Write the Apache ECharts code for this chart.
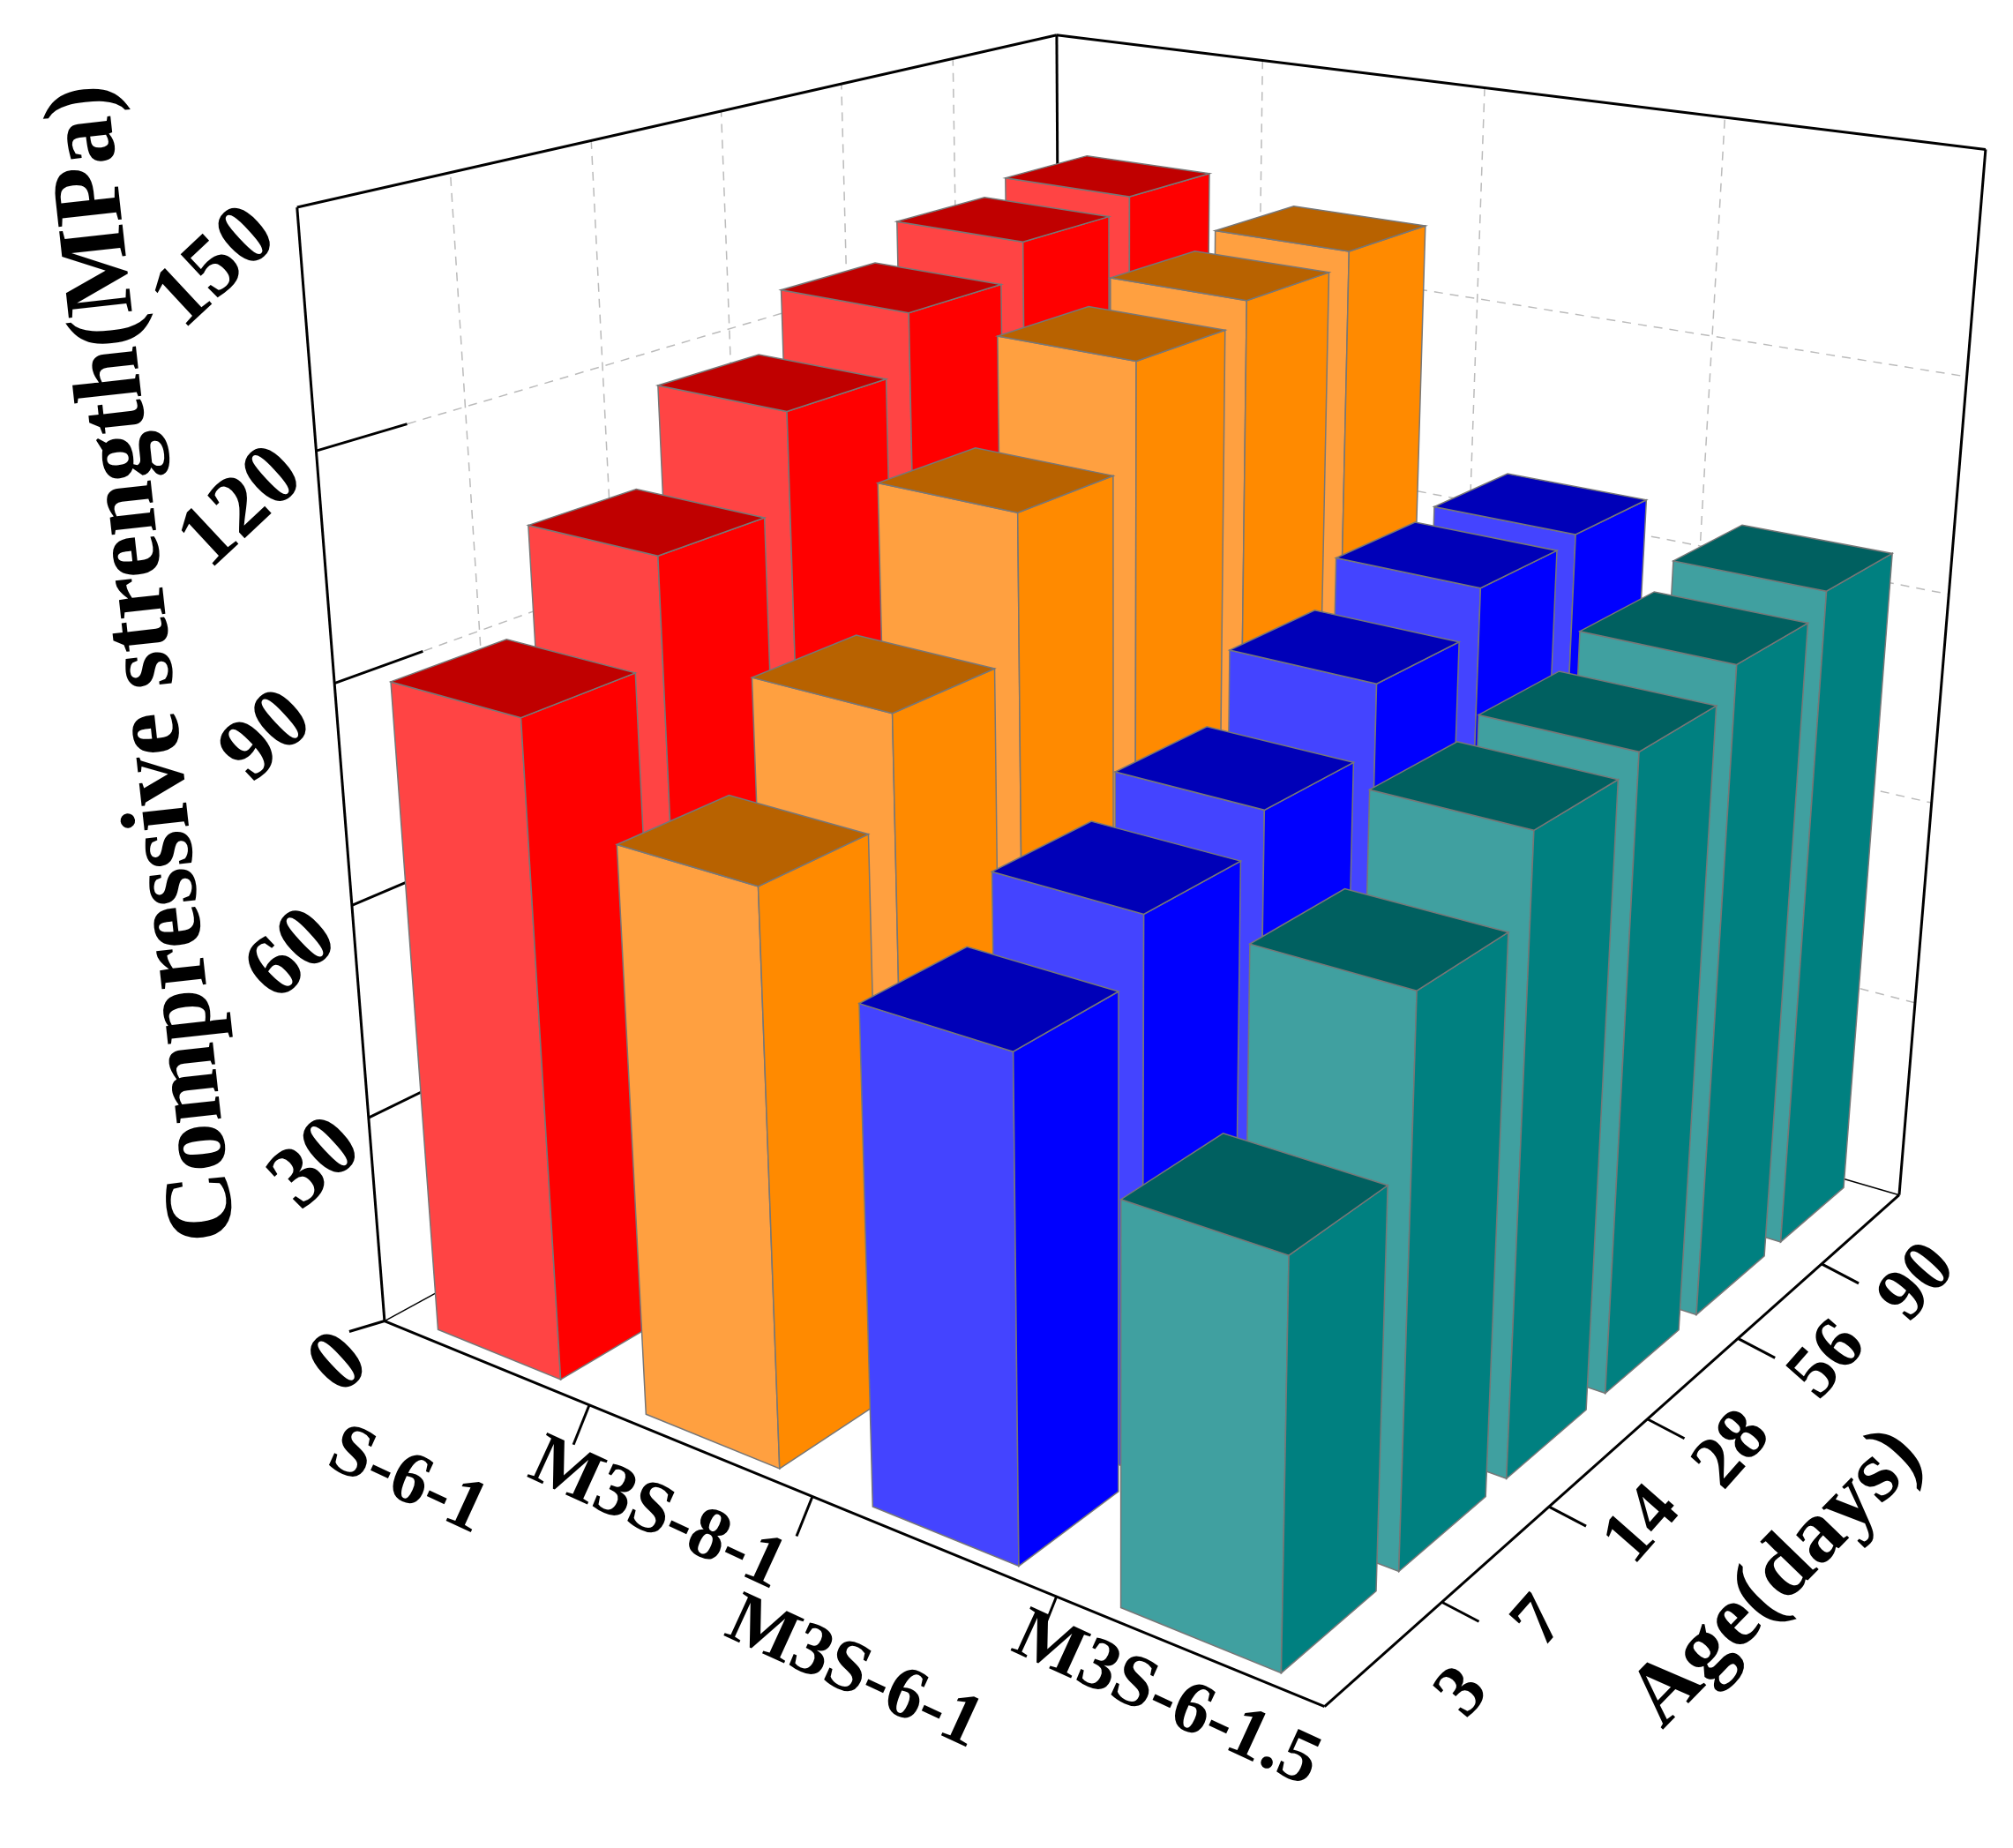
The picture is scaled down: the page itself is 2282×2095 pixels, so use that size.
<!DOCTYPE html>
<html><head><meta charset="utf-8">
<script src="https://cdn.jsdelivr.net/npm/echarts@6/dist/echarts.min.js"></script>
<style>html,body{margin:0;padding:0;background:#fff}#c{width:2282px;height:2095px}</style>
</head><body><div id="c"></div>
<script>
const groups = ['S-6-1','M3S-8-1','M3S-6-1','M3S-6-1.5'];
const ages = ['3','7','14','28','56','90'];
const yTicks = [0,30,60,90,120,150];
const sS61   = [91,105,118,126,131,133];
const sM3S81 = [78,92,111,125,128,130];
const sM3S61 = [67,75,80,89,95,96];
const sM3S615= [53,75,86,88,92,95];
const series = [sS61,sM3S81,sM3S61,sM3S615];
const colors = [
 {f:'#ff4444',s:'#ff0000',t:'#c00000'},
 {f:'#ffa040',s:'#ff8a00',t:'#b86200'},
 {f:'#4444ff',s:'#0000ff',t:'#0000b8'},
 {f:'#40a0a0',s:'#008080',t:'#006060'}
];
const VMAX=150;
// camera calibration: box corners (g,a,v/VMAX) -> pixel
const CAL=[[0,0,0,437,1499],[0,0,1,338,233],[1,1,0,2154,1353],[1,1,1,2252,171],[0,1,1,1196,40],[1,0,0,1499,1935]];
function solveCam(){
  const M=[],b=[];
  CAL.forEach(([X,Y,Z,u,v])=>{
    M.push([X,Y,Z,1,0,0,0,0,-u*X,-u*Y,-u*Z]);b.push(u);
    M.push([0,0,0,0,X,Y,Z,1,-v*X,-v*Y,-v*Z]);b.push(v);
  });
  const n=11,N=[],r=[];
  for(let i=0;i<n;i++){N.push(new Array(n).fill(0));r.push(0);
    for(let k=0;k<M.length;k++){r[i]+=M[k][i]*b[k];for(let j=0;j<n;j++)N[i][j]+=M[k][i]*M[k][j];}}
  for(let i=0;i<n;i++){let p=i;for(let k=i+1;k<n;k++)if(Math.abs(N[k][i])>Math.abs(N[p][i]))p=k;
    [N[i],N[p]]=[N[p],N[i]];[r[i],r[p]]=[r[p],r[i]];
    for(let k=0;k<n;k++){if(k===i)continue;const f=N[k][i]/N[i][i];for(let j=i;j<n;j++)N[k][j]-=f*N[i][j];r[k]-=f*r[i];}}
  return r.map((x,i)=>x/N[i][i]);
}
const P=solveCam();
function proj(g,a,v){
  const Z=v/VMAX,w=P[8]*g+P[9]*a+P[10]*Z+1;
  return [(P[0]*g+P[1]*a+P[2]*Z+P[3])/w,(P[4]*g+P[5]*a+P[6]*Z+P[7])/w];
}
const nG=groups.length,nA=ages.length;
const data=[];
series.forEach((arr,gi)=>arr.forEach((v,ai)=>data.push([gi,ai,v])));
data.sort((p,q)=>proj((p[0]+.5)/nG,(p[1]+.5)/nA,0)[1]-proj((q[0]+.5)/nG,(q[1]+.5)/nA,0)[1]);
const FONT='"Liberation Serif", serif';
const groupLabelPos=[[462,1680],[745,1718],[968,1898],[1322,1928]];
const ageLabelPos=[[1659,1920],[1746,1840],[1863,1730],[1965,1645],[2073,1543],[2175,1455]];
const chart=echarts.init(document.getElementById('c'));
function poly(api,pts,fill){
  return {type:'polygon',shape:{points:pts.map(p=>api.coord(p))},style:{fill:fill,stroke:'#777',lineWidth:1.5}};
}
function line(api,p1,p2,st){
  const a=api.coord(p1),b=api.coord(p2);
  return {type:'line',shape:{x1:a[0],y1:a[1],x2:b[0],y2:b[1]},style:st};
}
function txt(api,pos,s,rot,size){
  const c=api.coord(pos);
  return {type:'text',x:c[0],y:c[1],rotation:rot,style:{text:s,font:'bold '+size+'px '+FONT,fill:'#000',align:'center',verticalAlign:'middle'}};
}
chart.setOption({
  animation:false,
  grid:{left:0,right:0,top:0,bottom:0},
  xAxis:{type:'value',min:0,max:2282,show:false},
  yAxis:{type:'value',min:0,max:2095,inverse:true,show:false},
  series:[
  {type:'custom',data:[[0]],z:1,renderItem:(params,api)=>{
    const ch=[];
    const dash={stroke:'#bbb',lineWidth:1.5,lineDash:[10,8]};
    const solid={stroke:'#000',lineWidth:3};
    yTicks.forEach(v=>{ if(v>0&&v<VMAX){
      ch.push(line(api,proj(0,0,v),proj(0,1,v),dash));
      ch.push(line(api,proj(0,1,v),proj(1,1,v),dash));}});
    for(let i=1;i<nA;i++) ch.push(line(api,proj(0,i/nA,0),proj(0,i/nA,VMAX),dash));
    for(let i=1;i<nG;i++) ch.push(line(api,proj(i/nG,1,0),proj(i/nG,1,VMAX),dash));
    ch.push(line(api,proj(0,0,0),proj(0,0,VMAX),solid));
    ch.push(line(api,proj(0,0,VMAX),proj(0,1,VMAX),solid));
    ch.push(line(api,proj(0,1,VMAX),proj(1,1,VMAX),solid));
    ch.push(line(api,proj(0,1,0),proj(0,1,VMAX),solid));
    ch.push(line(api,proj(1,1,0),proj(1,1,VMAX),solid));
    ch.push(line(api,proj(0,0,0),proj(1,0,0),solid));
    ch.push(line(api,proj(1,0,0),proj(1,1,0),solid));
    ch.push(line(api,proj(0,1,0),proj(1,1,0),{stroke:'#000',lineWidth:1.5}));
    ch.push(line(api,proj(0,0,0),proj(0,1,0),{stroke:'#000',lineWidth:1.5}));
    yTicks.forEach(v=>{
      const p=proj(0,0,v);
      if(v>0&&v<VMAX) ch.push(line(api,p,proj(0,0.1,v),solid));
      if(v===0) ch.push(line(api,p,[p[0]-40,p[1]+12],solid));
      const t=v/VMAX;
      ch.push(txt(api,[p[0]-50-42*t,p[1]+50+20*t],String(v),0.75,100));
    });
    for(let i=1;i<nG;i++){const p=proj(i/nG,0,0);ch.push(line(api,p,[p[0]-18,p[1]+45],solid));}
    for(let i=1;i<nA;i++){const p=proj(1,i/nA,0);ch.push(line(api,p,[p[0]+42,p[1]+22],solid));}
    groups.forEach((gname,i)=>ch.push(txt(api,groupLabelPos[i],gname,-0.43,84)));
    ages.forEach((an,i)=>ch.push(txt(api,ageLabelPos[i],an,0.85,84)));
    ch.push(txt(api,[165,752],'Compressive strength(MPa)',Math.PI/2+0.11,110));
    ch.push(txt(api,[2015,1790],'Age(days)',0.8,100));
    return {type:'group',children:ch};
  }},
  {type:'custom',data:data,z:2,renderItem:(params,api)=>{
    const gi=api.value(0),ai=api.value(1),v=api.value(2);
    const g0=(gi+0.2)/nG,g1=(gi+0.8)/nG,a0=(ai+0.1)/nA,a1=(ai+0.9)/nA;
    const c=colors[gi];
    const front=[proj(g0,a0,0),proj(g1,a0,0),proj(g1,a0,v),proj(g0,a0,v)];
    const side=[proj(g1,a0,0),proj(g1,a1,0),proj(g1,a1,v),proj(g1,a0,v)];
    const top=[proj(g0,a0,v),proj(g1,a0,v),proj(g1,a1,v),proj(g0,a1,v)];
    return {type:'group',children:[poly(api,front,c.f),poly(api,side,c.s),poly(api,top,c.t)]};
  }}
  ]
});
</script></body></html>
